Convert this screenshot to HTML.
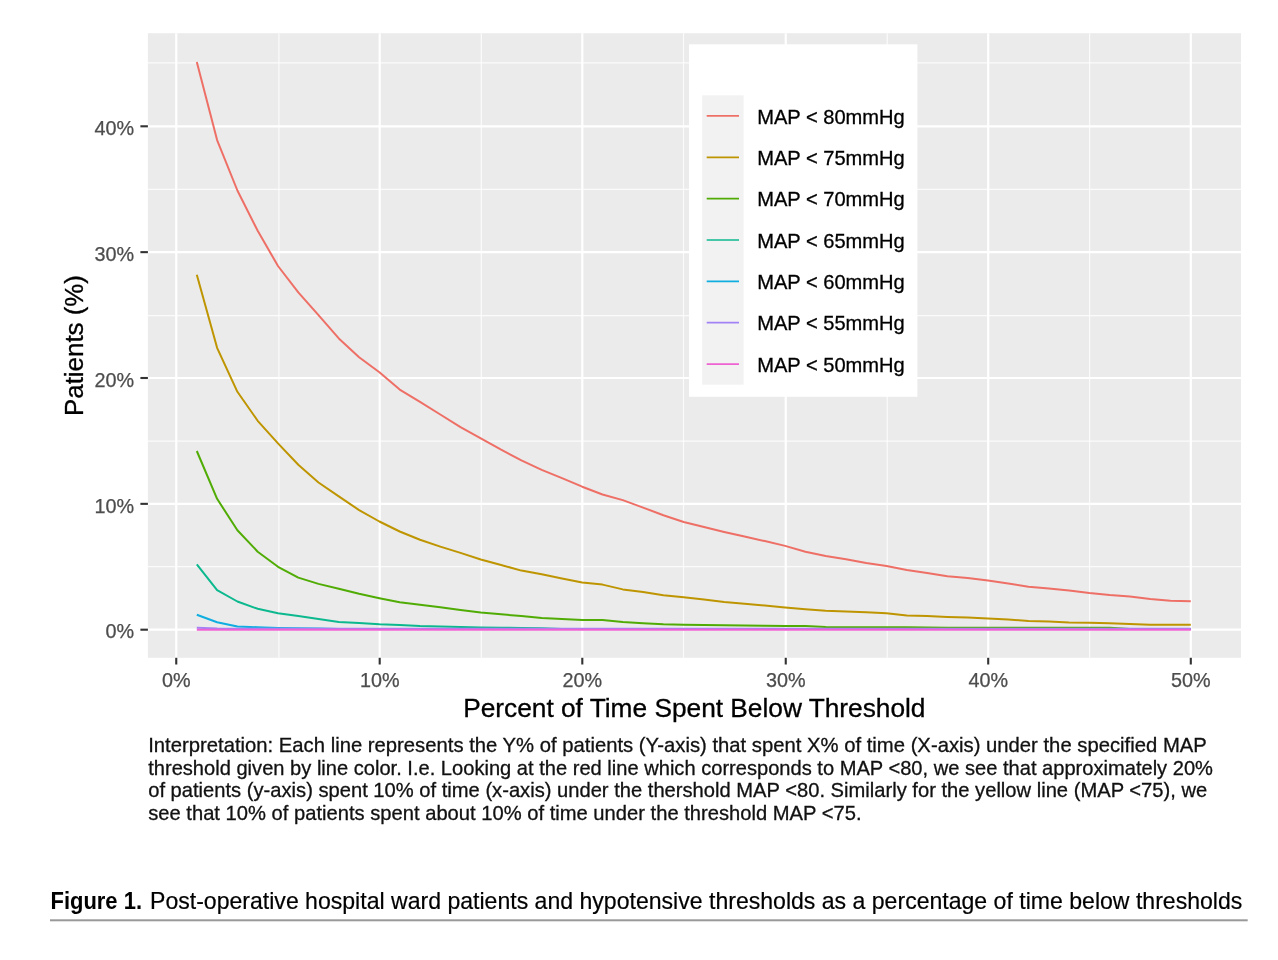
<!DOCTYPE html>
<html lang="en"><head><meta charset="utf-8"><title>Figure 1</title>
<style>html,body{margin:0;padding:0;background:#fff}svg{display:block}text{font-family:"Liberation Sans",Arial,Helvetica,sans-serif}</style></head><body>
<svg width="1278" height="960" viewBox="0 0 1278 960">
<rect width="1278" height="960" fill="#fff"/>
<rect x="147.9" y="33.2" width="1093.1" height="624.5999999999999" fill="#ebebeb"/>
<g stroke="#fff" stroke-width="1.2" stroke-opacity="0.8">
<line x1="147.9" x2="1241" y1="566.60" y2="566.60"/>
<line y1="33.2" y2="657.8" x1="278.90" x2="278.90"/>
<line x1="147.9" x2="1241" y1="441.20" y2="441.20"/>
<line y1="33.2" y2="657.8" x1="481.30" x2="481.30"/>
<line x1="147.9" x2="1241" y1="315.60" y2="315.60"/>
<line y1="33.2" y2="657.8" x1="683.50" x2="683.50"/>
<line x1="147.9" x2="1241" y1="189.40" y2="189.40"/>
<line y1="33.2" y2="657.8" x1="887.20" x2="887.20"/>
<line x1="147.9" x2="1241" y1="62.80" y2="62.80"/>
<line y1="33.2" y2="657.8" x1="1089.60" x2="1089.60"/>
</g>
<g stroke="#fff" stroke-width="2.2">
<line x1="147.9" x2="1241" y1="629.70" y2="629.70"/>
<line x1="147.9" x2="1241" y1="503.85" y2="503.85"/>
<line x1="147.9" x2="1241" y1="378.00" y2="378.00"/>
<line x1="147.9" x2="1241" y1="252.15" y2="252.15"/>
<line x1="147.9" x2="1241" y1="126.30" y2="126.30"/>
<line y1="33.2" y2="657.8" x1="176.25" x2="176.25"/>
<line y1="33.2" y2="657.8" x1="379.70" x2="379.70"/>
<line y1="33.2" y2="657.8" x1="582.30" x2="582.30"/>
<line y1="33.2" y2="657.8" x1="785.75" x2="785.75"/>
<line y1="33.2" y2="657.8" x1="988.20" x2="988.20"/>
<line y1="33.2" y2="657.8" x1="1190.80" x2="1190.80"/>
</g>
<g stroke="#333" stroke-width="2.1">
<line x1="140.4" x2="147.9" y1="629.70" y2="629.70"/>
<line x1="140.4" x2="147.9" y1="503.85" y2="503.85"/>
<line x1="140.4" x2="147.9" y1="378.00" y2="378.00"/>
<line x1="140.4" x2="147.9" y1="252.15" y2="252.15"/>
<line x1="140.4" x2="147.9" y1="126.30" y2="126.30"/>
<line y1="657.8" y2="664.5" x1="176.25" x2="176.25"/>
<line y1="657.8" y2="664.5" x1="379.70" x2="379.70"/>
<line y1="657.8" y2="664.5" x1="582.30" x2="582.30"/>
<line y1="657.8" y2="664.5" x1="785.75" x2="785.75"/>
<line y1="657.8" y2="664.5" x1="988.20" x2="988.20"/>
<line y1="657.8" y2="664.5" x1="1190.80" x2="1190.80"/>
</g>
<g fill="none" stroke-width="2" stroke-linejoin="round" stroke-linecap="butt">
<polyline stroke="#EE6F66" points="196.8,62.1 217.1,140.1 237.4,190.5 257.7,230.8 278.0,266.0 298.3,292.4 318.5,315.1 338.8,338.4 359.1,357.2 379.4,372.3 399.7,389.6 420.0,401.9 440.3,414.5 460.5,427.1 480.8,438.4 501.1,449.7 521.4,460.4 541.7,469.9 562.0,478.1 582.2,486.7 602.5,494.5 622.8,500.1 643.1,507.6 663.4,515.2 683.7,522.0 704.0,527.0 724.2,532.0 744.5,536.6 764.8,541.1 785.1,545.9 805.4,551.7 825.7,556.0 846.0,559.2 866.2,563.0 886.5,566.0 906.8,570.0 927.1,573.1 947.4,576.3 967.7,578.1 988.0,580.6 1008.2,583.4 1028.5,586.7 1048.8,588.4 1069.1,590.4 1089.4,593.0 1109.7,595.0 1129.9,596.5 1150.2,599.0 1170.5,600.8 1190.8,601.3"/>
<polyline stroke="#BE9500" points="196.8,274.8 217.1,347.8 237.4,391.8 257.7,420.8 278.0,443.4 298.3,464.8 318.5,482.5 338.8,496.3 359.1,510.1 379.4,521.5 399.7,531.5 420.0,539.8 440.3,546.6 460.5,552.9 480.8,559.5 501.1,565.0 521.4,570.6 541.7,574.3 562.0,578.6 582.2,582.6 602.5,584.6 622.8,589.4 643.1,591.9 663.4,595.2 683.7,597.2 704.0,599.5 724.2,602.0 744.5,603.8 764.8,605.5 785.1,607.6 805.4,609.3 825.7,610.8 846.0,611.6 866.2,612.3 886.5,613.3 906.8,615.4 927.1,616.1 947.4,616.9 967.7,617.6 988.0,618.4 1008.2,619.6 1028.5,620.9 1048.8,621.6 1069.1,622.4 1089.4,622.7 1109.7,623.2 1129.9,623.9 1150.2,624.7 1170.5,624.7 1190.8,624.7"/>
<polyline stroke="#50AC05" points="196.8,451.0 217.1,498.8 237.4,530.3 257.7,551.7 278.0,566.8 298.3,577.6 318.5,583.9 338.8,588.7 359.1,593.7 379.4,598.2 399.7,602.3 420.0,604.8 440.3,607.3 460.5,610.1 480.8,612.6 501.1,614.3 521.4,616.1 541.7,617.9 562.0,619.0 582.2,620.1 602.5,620.1 622.8,622.1 643.1,623.2 663.4,624.2 683.7,624.7 704.0,624.9 724.2,625.2 744.5,625.4 764.8,625.7 785.1,625.9 805.4,625.9 825.7,626.9 846.0,627.2 866.2,627.2 886.5,627.2 906.8,627.2 927.1,627.4 947.4,627.7 967.7,627.7 988.0,627.7 1008.2,627.7 1028.5,627.7 1048.8,627.7 1069.1,627.7 1089.4,627.7 1109.7,627.7 1129.9,628.9 1150.2,628.9 1170.5,628.9 1190.8,628.9"/>
<polyline stroke="#0CB88E" points="196.8,564.3 217.1,590.2 237.4,601.5 257.7,608.8 278.0,613.3 298.3,615.9 318.5,618.9 338.8,621.9 359.1,622.9 379.4,624.2 399.7,624.9 420.0,625.9 440.3,626.4 460.5,626.9 480.8,627.4 501.1,627.7 521.4,627.9 541.7,628.2 562.0,628.9 582.2,628.9 602.5,629.1 622.8,629.1 643.1,629.1 663.4,629.1 683.7,629.1 704.0,629.1 724.2,629.1 744.5,629.1 764.8,629.1 785.1,629.1 805.4,629.1 825.7,629.1 846.0,629.1 866.2,629.1 886.5,629.1 906.8,629.1 927.1,629.1 947.4,629.1 967.7,629.1 988.0,629.1 1008.2,629.1 1028.5,629.1 1048.8,629.1 1069.1,629.1 1089.4,629.1 1109.7,629.1 1129.9,629.1 1150.2,629.1 1170.5,629.1 1190.8,629.1"/>
<polyline stroke="#10AEE0" points="196.8,614.8 217.1,622.3 237.4,626.6 257.7,627.2 278.0,627.9 298.3,628.2 318.5,628.4 338.8,629.1 359.1,629.1 379.4,629.1 399.7,629.1 420.0,629.1 440.3,629.1 460.5,629.1 480.8,629.1 501.1,629.1 521.4,629.1 541.7,629.1 562.0,629.1 582.2,629.1 602.5,629.1 622.8,629.1 643.1,629.1 663.4,629.1 683.7,629.1 704.0,629.1 724.2,629.1 744.5,629.1 764.8,629.1 785.1,629.1 805.4,629.1 825.7,629.1 846.0,629.1 866.2,629.1 886.5,629.1 906.8,629.1 927.1,629.1 947.4,629.1 967.7,629.1 988.0,629.1 1008.2,629.1 1028.5,629.1 1048.8,629.1 1069.1,629.1 1089.4,629.1 1109.7,629.1 1129.9,629.1 1150.2,629.1 1170.5,629.1 1190.8,629.1"/>
<polyline stroke="#A283F5" points="196.8,627.7 217.1,628.6 237.4,628.7 257.7,628.7 278.0,628.7 298.3,628.7 318.5,628.7 338.8,628.7 359.1,628.7 379.4,628.7 399.7,628.7 420.0,628.7 440.3,628.7 460.5,628.7 480.8,628.7 501.1,628.7 521.4,628.7 541.7,628.7 562.0,628.7 582.2,628.7 602.5,628.7 622.8,628.7 643.1,628.7 663.4,628.7 683.7,628.7 704.0,628.7 724.2,628.7 744.5,628.7 764.8,628.7 785.1,628.7 805.4,628.7 825.7,628.7 846.0,628.7 866.2,628.7 886.5,628.7 906.8,628.7 927.1,628.7 947.4,628.7 967.7,628.7 988.0,628.7 1008.2,628.7 1028.5,628.7 1048.8,628.7 1069.1,628.7 1089.4,628.7 1109.7,628.7 1129.9,628.7 1150.2,628.7 1170.5,628.7 1190.8,628.7"/>
<polyline stroke="#EE62D2" points="196.8,629.8 1190.8,629.8"/>
</g>
<rect x="689" y="44.3" width="228.4" height="352.5" fill="#fff"/>
<rect x="702.2" y="95.3" width="41.4" height="289.4" fill="#f2f2f2"/>
<line x1="706.7" x2="739" y1="115.95" y2="115.95" stroke="#EE6F66" stroke-width="1.7"/>
<text x="757.2" y="123.65" font-size="19.8" fill="#000" stroke="#000" stroke-width="0.3" textLength="147.6" lengthAdjust="spacingAndGlyphs">MAP &lt; 80mmHg</text>
<line x1="706.7" x2="739" y1="157.30" y2="157.30" stroke="#BE9500" stroke-width="1.7"/>
<text x="757.2" y="165.00" font-size="19.8" fill="#000" stroke="#000" stroke-width="0.3" textLength="147.6" lengthAdjust="spacingAndGlyphs">MAP &lt; 75mmHg</text>
<line x1="706.7" x2="739" y1="198.65" y2="198.65" stroke="#50AC05" stroke-width="1.7"/>
<text x="757.2" y="206.35" font-size="19.8" fill="#000" stroke="#000" stroke-width="0.3" textLength="147.6" lengthAdjust="spacingAndGlyphs">MAP &lt; 70mmHg</text>
<line x1="706.7" x2="739" y1="240.00" y2="240.00" stroke="#0CB88E" stroke-width="1.7"/>
<text x="757.2" y="247.70" font-size="19.8" fill="#000" stroke="#000" stroke-width="0.3" textLength="147.6" lengthAdjust="spacingAndGlyphs">MAP &lt; 65mmHg</text>
<line x1="706.7" x2="739" y1="281.35" y2="281.35" stroke="#10AEE0" stroke-width="1.7"/>
<text x="757.2" y="289.05" font-size="19.8" fill="#000" stroke="#000" stroke-width="0.3" textLength="147.6" lengthAdjust="spacingAndGlyphs">MAP &lt; 60mmHg</text>
<line x1="706.7" x2="739" y1="322.70" y2="322.70" stroke="#A283F5" stroke-width="1.7"/>
<text x="757.2" y="330.40" font-size="19.8" fill="#000" stroke="#000" stroke-width="0.3" textLength="147.6" lengthAdjust="spacingAndGlyphs">MAP &lt; 55mmHg</text>
<line x1="706.7" x2="739" y1="364.05" y2="364.05" stroke="#EE62D2" stroke-width="1.7"/>
<text x="757.2" y="371.75" font-size="19.8" fill="#000" stroke="#000" stroke-width="0.3" textLength="147.6" lengthAdjust="spacingAndGlyphs">MAP &lt; 50mmHg</text>
<text x="134" y="638.40" font-size="19.8" stroke="#4d4d4d" stroke-width="0.25" fill="#4d4d4d" text-anchor="end">0%</text>
<text x="134" y="512.55" font-size="19.8" stroke="#4d4d4d" stroke-width="0.25" fill="#4d4d4d" text-anchor="end">10%</text>
<text x="134" y="386.70" font-size="19.8" stroke="#4d4d4d" stroke-width="0.25" fill="#4d4d4d" text-anchor="end">20%</text>
<text x="134" y="260.85" font-size="19.8" stroke="#4d4d4d" stroke-width="0.25" fill="#4d4d4d" text-anchor="end">30%</text>
<text x="134" y="135.00" font-size="19.8" stroke="#4d4d4d" stroke-width="0.25" fill="#4d4d4d" text-anchor="end">40%</text>
<text x="176.25" y="687" font-size="19.8" fill="#4d4d4d" stroke="#4d4d4d" stroke-width="0.25" text-anchor="middle">0%</text>
<text x="379.70" y="687" font-size="19.8" fill="#4d4d4d" stroke="#4d4d4d" stroke-width="0.25" text-anchor="middle">10%</text>
<text x="582.30" y="687" font-size="19.8" fill="#4d4d4d" stroke="#4d4d4d" stroke-width="0.25" text-anchor="middle">20%</text>
<text x="785.75" y="687" font-size="19.8" fill="#4d4d4d" stroke="#4d4d4d" stroke-width="0.25" text-anchor="middle">30%</text>
<text x="988.20" y="687" font-size="19.8" fill="#4d4d4d" stroke="#4d4d4d" stroke-width="0.25" text-anchor="middle">40%</text>
<text x="1190.80" y="687" font-size="19.8" fill="#4d4d4d" stroke="#4d4d4d" stroke-width="0.25" text-anchor="middle">50%</text>
<text x="463.2" y="717.1" font-size="25" fill="#000" stroke="#000" stroke-width="0.3" textLength="462.3" lengthAdjust="spacingAndGlyphs">Percent of Time Spent Below Threshold</text>
<text transform="translate(83.3 416) rotate(-90)" font-size="25" fill="#000" stroke="#000" stroke-width="0.3" textLength="141" lengthAdjust="spacingAndGlyphs">Patients (%)</text>
<text x="148.2" y="752.2" font-size="20.6" fill="#111" stroke="#111" stroke-width="0.3" textLength="1058.6" lengthAdjust="spacingAndGlyphs">Interpretation: Each line represents the Y% of patients (Y-axis) that spent X% of time (X-axis) under the specified MAP</text>
<text x="148.2" y="774.8" font-size="20.6" fill="#111" stroke="#111" stroke-width="0.3" textLength="1064.8" lengthAdjust="spacingAndGlyphs">threshold given by line color. I.e. Looking at the red line which corresponds to MAP &lt;80, we see that approximately 20%</text>
<text x="148.2" y="797.4" font-size="20.6" fill="#111" stroke="#111" stroke-width="0.3" textLength="1059.0" lengthAdjust="spacingAndGlyphs">of patients (y-axis) spent 10% of time (x-axis) under the thershold MAP &lt;80. Similarly for the yellow line (MAP &lt;75), we</text>
<text x="148.2" y="820.0" font-size="20.6" fill="#111" stroke="#111" stroke-width="0.3" textLength="713.4" lengthAdjust="spacingAndGlyphs">see that 10% of patients spent about 10% of time under the threshold MAP &lt;75.</text>
<text x="50.5" y="909.4" font-size="24" font-weight="bold" fill="#000" textLength="91.5" lengthAdjust="spacingAndGlyphs">Figure 1.</text>
<text x="150" y="909.4" font-size="24" fill="#000" stroke="#000" stroke-width="0.2" textLength="1092.3" lengthAdjust="spacingAndGlyphs">Post-operative hospital ward patients and hypotensive thresholds as a percentage of time below thresholds</text>
<rect x="50" y="919.3" width="1197.7" height="2" fill="#999"/>
</svg></body></html>
